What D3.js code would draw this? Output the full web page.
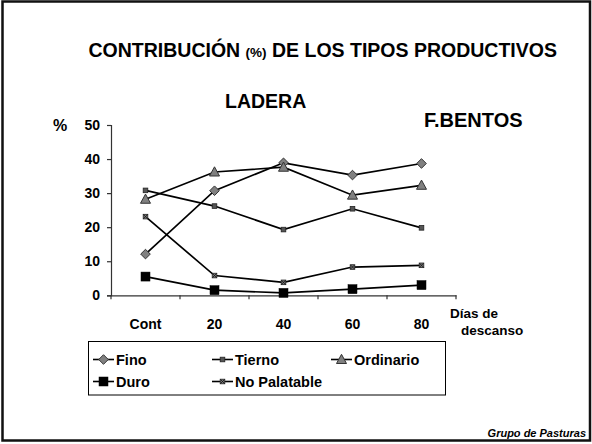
<!DOCTYPE html>
<html>
<head>
<meta charset="utf-8">
<script src="https://cdn.jsdelivr.net/npm/d3@7"></script>
<style>
html,body{margin:0;padding:0;background:#fff;}
svg{display:block;font-family:"Liberation Sans",Arial,sans-serif;}
</style>
</head>
<body>
<svg id="chart" width="592" height="444"></svg>
<script>
const categories = ["Cont","20","40","60","80"];
const yTicks = [0,10,20,30,40,50];
const seriesNames = ["Fino","Tierno","Ordinario","Duro","No Palatable"];
const fino = [12.1, 30.7, 38.9, 35.3, 38.7];
const tierno = [30.8, 26.2, 19.3, 25.4, 19.8];
const ordinario = [28.2, 36.2, 37.6, 29.4, 32.3];
const duro = [5.5, 1.5, 0.7, 1.8, 3.0];
const noPalatable = [23.1, 5.8, 3.8, 8.3, 8.8];

const series = [
  {name: seriesNames[0], values: fino, marker: "diamond"},
  {name: seriesNames[1], values: tierno, marker: "smallsquare"},
  {name: seriesNames[2], values: ordinario, marker: "triangle"},
  {name: seriesNames[3], values: duro, marker: "bigsquare"},
  {name: seriesNames[4], values: noPalatable, marker: "xsquare"}
];

const svg = d3.select("#chart");

// outer frame
svg.append("rect").attr("x",2.5).attr("y",1.5).attr("width",587.5).attr("height",439)
  .attr("fill","none").attr("stroke","#111").attr("stroke-width",2.5);

// Titles
const t = svg.append("text").attr("x",88.5).attr("y",57).attr("font-weight","bold").attr("fill","#000");
t.append("tspan").attr("font-size",19.5).text("CONTRIBUCIÓN ");
t.append("tspan").attr("font-size",13.5).text("(%)");
t.append("tspan").attr("font-size",19.5).text(" DE LOS TIPOS PRODUCTIVOS");

svg.append("text").attr("x",225).attr("y",108).attr("font-size",19.5).attr("font-weight","bold").text("LADERA");
svg.append("text").attr("x",424).attr("y",127).attr("font-size",20).attr("font-weight","bold").text("F.BENTOS");

const x = d3.scaleBand().domain(categories).range([111,456]).paddingInner(0).paddingOuter(0);
const y = d3.scaleLinear().domain([0,50]).range([295.3,125]);

// y axis
const yAxis = svg.append("g").attr("transform","translate(111,0)")
  .call(d3.axisLeft(y).tickValues(yTicks).tickSize(4).tickPadding(7).tickFormat(d3.format("d")));
yAxis.select(".domain").attr("stroke","#333").attr("stroke-width",1.2);
yAxis.selectAll(".tick line").attr("stroke","#333").attr("stroke-width",1.2);
yAxis.selectAll("text").attr("font-size",14).attr("font-weight","bold").attr("fill","#000")
  .attr("font-family","'Liberation Sans',Arial,sans-serif");

svg.append("text").attr("x",53).attr("y",131).attr("font-size",16).attr("font-weight","bold").text("%");

// x axis
const xAxis = svg.append("g").attr("transform","translate(0,295.3)")
  .call(d3.axisBottom(x).tickSize(0).tickPadding(24));
xAxis.select(".domain").attr("stroke","#333").attr("stroke-width",1.2);
xAxis.selectAll("text").attr("font-size",14).attr("font-weight","bold").attr("fill","#000")
  .attr("font-family","'Liberation Sans',Arial,sans-serif");
// boundary ticks
const bounds = categories.map(c => x(c)).concat([x(categories[categories.length-1]) + x.bandwidth()]);
xAxis.selectAll(".bt").data(bounds).enter().append("line")
  .attr("x1",d=>d).attr("x2",d=>d).attr("y1",0).attr("y2",4)
  .attr("stroke","#333").attr("stroke-width",1.2);

svg.append("text").attr("x",450).attr("y",318).attr("font-size",13.5).attr("font-weight","bold").text("Días de");
svg.append("text").attr("x",461).attr("y",335).attr("font-size",13.5).attr("font-weight","bold").text("descanso");

const cx = i => x(categories[i]) + x.bandwidth()/2;

function drawMarker(g, type, px, py){
  if(type==="diamond"){
    g.append("path").attr("d",`M${px},${py-4.8}L${px+4.8},${py}L${px},${py+4.8}L${px-4.8},${py}Z`)
      .attr("fill","#808080").attr("stroke","#333").attr("stroke-width",1);
  } else if(type==="smallsquare"){
    g.append("rect").attr("x",px-2.3).attr("y",py-2.3).attr("width",4.6).attr("height",4.6)
      .attr("fill","#555").attr("stroke","#222").attr("stroke-width",0.8);
  } else if(type==="triangle"){
    g.append("path").attr("d",`M${px},${py-5.2}L${px+5},${py+4}L${px-5},${py+4}Z`)
      .attr("fill","#808080").attr("stroke","#333").attr("stroke-width",1);
  } else if(type==="bigsquare"){
    g.append("rect").attr("x",px-4.5).attr("y",py-4.5).attr("width",9).attr("height",9)
      .attr("fill","#000").attr("stroke","#000").attr("stroke-width",0.5);
  } else if(type==="xsquare"){
    g.append("rect").attr("x",px-2.3).attr("y",py-2.3).attr("width",4.6).attr("height",4.6)
      .attr("fill","#777").attr("stroke","#222").attr("stroke-width",0.8);
    g.append("path").attr("d",`M${px-2},${py-2}L${px+2},${py+2}M${px+2},${py-2}L${px-2},${py+2}`)
      .attr("stroke","#111").attr("stroke-width",0.8);
  }
}

const line = d3.line().x((d,i)=>cx(i)).y(d=>y(d));
series.forEach(s => {
  const g = svg.append("g");
  g.append("path").attr("d", line(s.values)).attr("fill","none").attr("stroke","#000").attr("stroke-width",1.7);
  s.values.forEach((v,i) => drawMarker(g, s.marker, cx(i), y(v)));
});

// legend
svg.append("rect").attr("x",88.5).attr("y",341.5).attr("width",357).attr("height",53.5)
  .attr("fill","#fff").attr("stroke","#000").attr("stroke-width",1);
const legPos = [[93,359.5],[212,359.5],[331,359.5],[93,381.5],[212,381.5]];
series.forEach((s,i) => {
  const [lx,ly] = legPos[i];
  const g = svg.append("g");
  g.append("line").attr("x1",lx).attr("x2",lx+21).attr("y1",ly).attr("y2",ly).attr("stroke","#000").attr("stroke-width",1.6);
  drawMarker(g, s.marker, lx+10.5, ly);
  g.append("text").attr("x",lx+23).attr("y",ly+5).attr("font-size",14.5).attr("font-weight","bold").text(s.name);
});

svg.append("text").attr("x",586).attr("y",437).attr("text-anchor","end").attr("font-size",11)
  .attr("font-weight","bold").attr("font-style","italic").text("Grupo de Pasturas");
</script>
</body>
</html>
